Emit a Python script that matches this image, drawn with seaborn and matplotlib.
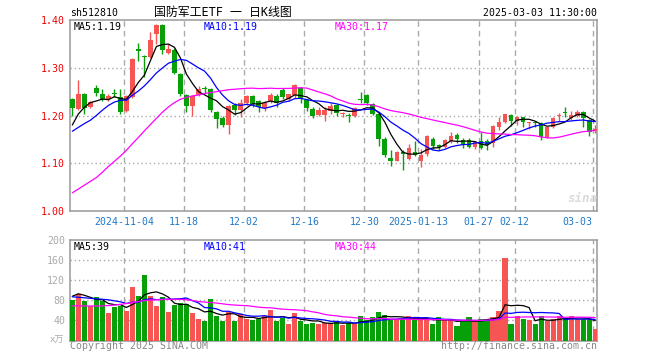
import numpy as np
import pandas as pd
import matplotlib
matplotlib.use('Agg')
import matplotlib.pyplot as plt
import seaborn as sns

# ---- data (88 trading days, 2024-10-22 .. 2025-03-03) ----
opens = [1.235, 1.213, 1.246, 1.218, 1.258, 1.246, 1.235, 1.248, 1.238, 1.209,
         1.238, 1.340, 1.325, 1.322, 1.371, 1.389, 1.331, 1.338, 1.286, 1.243,
         1.220, 1.243, 1.257, 1.256, 1.208, 1.194, 1.180, 1.222, 1.211, 1.226,
         1.241, 1.230, 1.215, 1.230, 1.241, 1.253, 1.234, 1.243, 1.257, 1.232,
         1.213, 1.202, 1.201, 1.210, 1.222, 1.203, 1.201, 1.198, 1.235, 1.242,
         1.225, 1.203, 1.151, 1.110, 1.105, 1.123, 1.109, 1.124, 1.105, 1.119,
         1.151, 1.139, 1.134, 1.147, 1.160, 1.149, 1.149, 1.134, 1.146, 1.147,
         1.142, 1.176, 1.187, 1.201, 1.189, 1.196, 1.184, 1.186, 1.184, 1.154,
         1.175, 1.198, 1.206, 1.195, 1.200, 1.208, 1.191, 1.168]
highs = [1.237, 1.274, 1.248, 1.230, 1.263, 1.256, 1.245, 1.255, 1.255, 1.242,
         1.321, 1.352, 1.327, 1.375, 1.392, 1.392, 1.349, 1.342, 1.288, 1.245,
         1.243, 1.262, 1.262, 1.258, 1.210, 1.198, 1.222, 1.227, 1.235, 1.243,
         1.243, 1.233, 1.230, 1.248, 1.245, 1.258, 1.246, 1.265, 1.259, 1.234,
         1.217, 1.217, 1.217, 1.227, 1.225, 1.208, 1.206, 1.217, 1.250, 1.245,
         1.227, 1.207, 1.155, 1.128, 1.126, 1.128, 1.140, 1.147, 1.130, 1.160,
         1.156, 1.141, 1.151, 1.165, 1.163, 1.153, 1.153, 1.146, 1.165, 1.150,
         1.180, 1.197, 1.204, 1.203, 1.198, 1.197, 1.186, 1.189, 1.187, 1.176,
         1.196, 1.206, 1.217, 1.210, 1.212, 1.210, 1.193, 1.180]
lows = [1.200, 1.211, 1.203, 1.216, 1.240, 1.230, 1.230, 1.238, 1.204, 1.207,
        1.236, 1.314, 1.280, 1.320, 1.350, 1.329, 1.328, 1.286, 1.241, 1.208,
        1.199, 1.241, 1.248, 1.208, 1.173, 1.175, 1.162, 1.201, 1.196, 1.222,
        1.217, 1.208, 1.210, 1.226, 1.218, 1.234, 1.231, 1.237, 1.227, 1.209,
        1.194, 1.199, 1.189, 1.203, 1.199, 1.196, 1.187, 1.196, 1.227, 1.222,
        1.201, 1.137, 1.114, 1.095, 1.104, 1.086, 1.107, 1.115, 1.093, 1.115,
        1.130, 1.127, 1.132, 1.143, 1.142, 1.132, 1.132, 1.130, 1.130, 1.127,
        1.135, 1.169, 1.185, 1.179, 1.181, 1.175, 1.172, 1.175, 1.148, 1.153,
        1.173, 1.189, 1.196, 1.191, 1.197, 1.175, 1.157, 1.164]
closes = [1.215, 1.246, 1.215, 1.228, 1.248, 1.235, 1.240, 1.246, 1.208, 1.240,
          1.318, 1.335, 1.322, 1.359, 1.389, 1.338, 1.340, 1.288, 1.246, 1.220,
          1.241, 1.255, 1.255, 1.211, 1.192, 1.180, 1.220, 1.211, 1.227, 1.240,
          1.225, 1.217, 1.227, 1.242, 1.227, 1.239, 1.244, 1.264, 1.234, 1.215,
          1.199, 1.212, 1.212, 1.220, 1.205, 1.206, 1.200, 1.215, 1.233, 1.227,
          1.203, 1.151, 1.117, 1.105, 1.124, 1.119, 1.131, 1.117, 1.117, 1.158,
          1.137, 1.134, 1.149, 1.158, 1.151, 1.139, 1.135, 1.144, 1.132, 1.138,
          1.178, 1.187, 1.203, 1.188, 1.196, 1.187, 1.186, 1.184, 1.156, 1.175,
          1.194, 1.202, 1.205, 1.201, 1.208, 1.195, 1.165, 1.172]
volumes = [80.6, 92.6, 78.6, 68.6, 87.3, 78.6, 55.3, 67.3, 68.6, 59.3,
           107.3, 88.6, 130.6, 88.6, 68.6, 87.3, 56.0, 70.6, 75.3, 72.0,
           55.3, 42.6, 39.3, 82.0, 49.3, 39.3, 56.0, 39.3, 52.6, 42.6,
           40.6, 43.3, 49.3, 60.6, 39.3, 45.3, 32.6, 55.3, 38.6, 32.6,
           35.3, 32.6, 35.3, 34.6, 38.0, 31.3, 34.6, 33.3, 48.0, 41.3,
           46.0, 56.0, 50.0, 42.6, 42.6, 42.6, 48.0, 41.3, 42.6, 42.6,
           32.6, 46.0, 41.3, 41.3, 29.3, 38.0, 46.0, 38.0, 42.6, 43.3,
           46.0, 59.3, 164.6, 32.6, 48.0, 42.6, 40.0, 33.3, 48.0, 38.0,
           42.6, 48.0, 42.6, 48.0, 42.6, 42.6, 42.6, 22.6]

# moving averages at the left edge need days before the window
ma5_head = [1.180, 1.203, 1.217, 1.227]
ma10_head = [1.167, 1.175, 1.183, 1.190, 1.200, 1.211, 1.221, 1.228, 1.232]
ma30_head = [1.038, 1.046, 1.054, 1.062, 1.070, 1.081, 1.093, 1.104, 1.115, 1.127,
             1.141, 1.154, 1.168, 1.181, 1.194, 1.207, 1.218, 1.227, 1.234, 1.238,
             1.241, 1.243, 1.246, 1.248, 1.250, 1.252, 1.254, 1.255, 1.256]
vma5_head = [88, 93, 90, 86]
vma10_head = [87, 86, 85, 84, 83, 82, 81, 79, 77]
vma30_head = [69, 69, 68.8, 68.6, 68.6, 69, 69.5, 70.5, 72, 73.5,
              75.5, 77.5, 79.5, 80.5, 81, 81.5, 82, 82, 82, 81,
              79.5, 77.5, 76.5, 75.5, 74.5, 73, 71.5, 70.5, 69.8]

tick_idx = [9, 19, 29, 39, 49, 58, 68, 74, 87]
tick_labels = ['2024-11-04', '11-18', '12-02', '12-16', '12-30',
               '2025-01-13', '01-27', '02-12', '03-03']

RED = '#f75454'
GREEN = '#08a008'
GRID = '#aaaaaa'

df = pd.DataFrame({'open': opens, 'high': highs, 'low': lows,
                   'close': closes, 'vol': volumes})
df['idx'] = np.arange(len(df))
df['dir'] = np.where(df['close'] >= df['open'], 'up', 'down')
df['color'] = np.where(df['dir'] == 'up', RED, GREEN)


def ma(s, n, head):
    m = s.rolling(n).mean()
    m.iloc[:len(head)] = head
    return m


df['ma5'] = ma(df['close'], 5, ma5_head)
df['ma10'] = ma(df['close'], 10, ma10_head)
df['ma30'] = ma(df['close'], 30, ma30_head)
df['vma5'] = ma(df['vol'], 5, vma5_head)
df['vma10'] = ma(df['vol'], 10, vma10_head)
df['vma30'] = ma(df['vol'], 30, vma30_head)

sns.set_theme(style='white')
plt.rcParams['font.family'] = ['DejaVu Sans Mono', 'Noto Sans CJK SC']

W, H = 660, 360
fig = plt.figure(figsize=(6.6, 3.6), dpi=100)
fig.patch.set_facecolor('white')
ax = fig.add_axes([70 / W, 1 - 211 / H, 527 / W, 191 / H])
axv = fig.add_axes([70 / W, 1 - 340.5 / H, 527 / W, 100.5 / H])

# ---- candles ----
body_lo = df[['open', 'close']].min(axis=1)
body_h = np.maximum((df['close'] - df['open']).abs(), 0.0018)
ax.vlines(df['idx'], df['low'], df['high'], colors=df['color'], lw=1, zorder=3)
ax.bar(df['idx'], body_h, bottom=body_lo, width=0.78, color=df['color'],
       linewidth=0, zorder=4)

for col, c in [('ma5', 'black'), ('ma10', '#0000ff'), ('ma30', '#ff00ff')]:
    sns.lineplot(data=df, x='idx', y=col, ax=ax, color=c, lw=0.9, zorder=5)

# ---- volume ----
sns.barplot(data=df, x='idx', y='vol', hue='dir',
            palette={'up': RED, 'down': GREEN}, native_scale=True,
            dodge=False, width=0.85, saturation=1, errorbar=None,
            legend=False, linewidth=0, ax=axv, zorder=3)
for col, c in [('vma5', 'black'), ('vma10', '#0000ff'), ('vma30', '#ff00ff')]:
    sns.lineplot(data=df, x='idx', y=col, ax=axv, color=c, lw=0.9, zorder=5)

xlim = (-0.38, 87.3)
grid_x = [i - 0.4 for i in tick_idx]
for a in (ax, axv):
    a.set_xlim(*xlim)
    a.set_xlabel('')
    a.set_ylabel('')
    a.set_facecolor('white')
    for s in a.spines.values():
        s.set_color('#999999')
        s.set_linewidth(1.1)
    for gx in grid_x:
        a.axvline(gx, color=GRID, lw=1, ls=(0, (4, 3)), zorder=1)
    a.tick_params(length=0)

ax.set_ylim(1.0, 1.4)
ax.set_yticks([1.0, 1.1, 1.2, 1.3, 1.4])
ax.set_yticklabels(['1.00', '1.10', '1.20', '1.30', '1.40'], color='#ee0000',
                   fontsize=7.1)
ax.tick_params(axis='y', pad=3.5)
for gy in [1.1, 1.2, 1.3]:
    ax.axhline(gy, color=GRID, lw=1, ls=(0, (1, 2)), zorder=1)
ax.set_xticks(grid_x)
ax.set_xticklabels(tick_labels, color='#1e78c8', fontsize=7.1)
ax.tick_params(axis='x', pad=4)
ax.get_xticklabels()[-1].set_ha('right')

axv.set_ylim(0, 200)
axv.set_yticks([40, 80, 120, 160, 200])
axv.set_yticklabels(['40', '80', '120', '160', '200'], color='#aaaaaa',
                    fontsize=7.1)
axv.tick_params(axis='y', pad=3.5)
axv.set_xticks([])
for gy in [40, 80, 120, 160]:
    axv.axhline(gy, color=GRID, lw=1, ls=(0, (1, 2)), zorder=1)


def txt(x, y, s, **kw):
    fig.text(x / W, 1 - y / H, s, va='center', **kw)


txt(70, 13, 'sh512810', fontsize=7.1, color='black')
txt(223, 12, '国防军工ETF 一 日K线图', fontsize=8.6, color='black', ha='center')
txt(597, 12.5, '2025-03-03 11:30:00', fontsize=7.1, color='black', ha='right')

txt(74, 27, 'MA5:1.19', fontsize=7.1, color='black')
txt(204, 27, 'MA10:1.19', fontsize=7.1, color='#0000ff')
txt(334.5, 27, 'MA30:1.17', fontsize=7.1, color='#ff00ff')

txt(74, 247, 'MA5:39', fontsize=7.1, color='black')
txt(204, 247, 'MA10:41', fontsize=7.1, color='#0000ff')
txt(334.5, 247, 'MA30:44', fontsize=7.1, color='#ff00ff')

txt(64, 340, 'x万', fontsize=6.5, color='#aaaaaa', ha='right')
txt(70, 346, 'Copyright 2025 SINA.COM', fontsize=7.1, color='#888888')
txt(597, 346, 'http://finance.sina.com.cn', fontsize=7.1, color='#888888',
    ha='right')
txt(582, 198, 'sina', fontsize=9, color='#dcdcdc', ha='center',
    style='italic', weight='bold')

fig.savefig('out.png', dpi=100)
